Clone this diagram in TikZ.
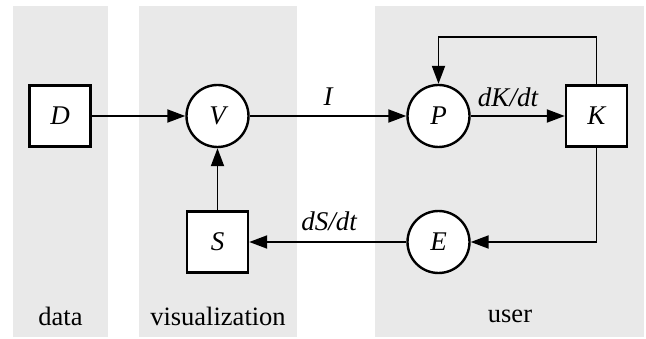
\documentclass[tikz,border=0pt]{standalone}
\usepackage{fontspec}
\setmainfont{Liberation Serif}
\usetikzlibrary{arrows.meta}
\definecolor{bandgray}{RGB}{233,233,233}
\begin{document}
\begin{tikzpicture}[x=1pt,y=-1pt,
  font=\fontsize{26.5}{30}\selectfont,
  boxnode/.style={draw, line width=2.4pt, fill=white, minimum size=61pt, inner sep=0pt, font=\fontsize{27}{30}\selectfont\itshape},
  circnode/.style={draw, circle, line width=2.4pt, fill=white, minimum size=62pt, inner sep=0pt, font=\fontsize{27}{30}\selectfont\itshape},
  conn/.style={line width=1.9pt, -{Triangle[length=18pt,width=13pt]}},
  edgelbl/.style={font=\fontsize{27}{30}\selectfont\itshape, inner sep=0pt},
  bandlbl/.style={inner sep=0pt}]
\useasboundingbox (0,0) rectangle (646,339);
\fill[bandgray] (13,6) rectangle (108,337);
\fill[bandgray] (139,6) rectangle (297,337);
\fill[bandgray] (375,6) rectangle (644,337);

\node[boxnode] (D) at (60,116) {D};
\node[circnode] (V) at (217.5,116) {V};
\node[boxnode] (S) at (217.5,242) {S};
\node[circnode] (P) at (438.5,116) {P};
\node[boxnode] (K) at (596.5,116) {K};
\node[circnode] (E) at (438.5,242) {E};

\coordinate (ktop) at (596.5,37);
\coordinate (ptop) at (438.5,37);
\coordinate (kbot) at (596.5,242);

\draw[conn] (D) -- (V);
\draw[conn] (V) -- (P);
\draw[conn] (P) -- (K);
\draw[conn] (S) -- (V);
\draw[conn] (K.north) -- (ktop) -- (ptop) -- (P.north);
\draw[conn] (K.south) -- (kbot) -- (E.east);
\draw[conn] (E) -- (S);

\node[edgelbl] (lI) at (328,97) {I};
\node[edgelbl] (lK) at (508,97) {dK/dt};
\node[edgelbl] (lS) at (329,221) {dS/dt};

\node[bandlbl] (ld) at (60.5,316) {data};
\node[bandlbl] (lv) at (218,316) {visualization};
\node[bandlbl] (lu) at (510,316) {user};
\end{tikzpicture}
\end{document}
